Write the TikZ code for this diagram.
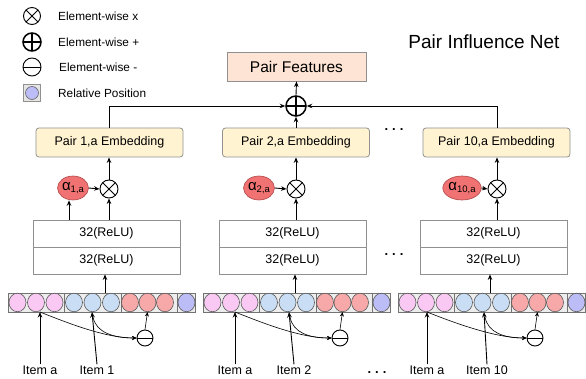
\documentclass[tikz,border=0pt]{standalone}
\usepackage{fontspec}
\setmainfont{Liberation Sans}
\usetikzlibrary{arrows.meta,shapes.geometric,calc}
\definecolor{embfill}{HTML}{FFF3D2}
\definecolor{pffill}{HTML}{FDE4D4}
\definecolor{alphafill}{HTML}{F07272}
\definecolor{alphadraw}{HTML}{B04848}
\definecolor{cpink}{HTML}{F9C9F4}
\definecolor{cblue}{HTML}{C9DEF4}
\definecolor{cred}{HTML}{F7A8A8}
\definecolor{cpurple}{HTML}{BCBDF7}
\definecolor{boxgray}{HTML}{909090}
\newcommand\fsz[1]{\fontsize{#1}{#1}\selectfont}
\newcommand\alab[1]{{\fsz{15}α}\raisebox{-2.5pt}{\fsz{9.5}#1}}
\begin{document}
\begin{tikzpicture}[x=1pt,y=-1pt,
  arr/.style={-{Stealth[length=5.5pt,width=4.5pt]},line width=0.9pt},
  thinarr/.style={-{Stealth[length=4.5pt,width=4pt]},line width=0.6pt},
  opbase/.style={circle,draw,fill=white,line width=0.9pt,inner sep=0pt,minimum size=#1},
  otimesnode/.style={opbase=#1,path picture={\draw[line width=0.9pt] (path picture bounding box.south west)--(path picture bounding box.north east) (path picture bounding box.north west)--(path picture bounding box.south east);}},
  oplusnode/.style={opbase=#1,line width=1.5pt,path picture={\draw[line width=1.5pt] (path picture bounding box.south)--(path picture bounding box.north) (path picture bounding box.west)--(path picture bounding box.east);}},
  ominusnode/.style={opbase=#1,path picture={\draw[line width=0.9pt] (path picture bounding box.west)--(path picture bounding box.east);}},
  legtxt/.style={anchor=west,inner sep=0pt,font=\fsz{11.8}},
  embbox/.style={draw=boxgray,fill=embfill,rounded corners=3pt,minimum width=147pt,minimum height=29pt,inner sep=0pt,font=\fsz{12.5},line width=0.8pt},
  relubox/.style={draw=boxgray,fill=white,minimum width=147pt,minimum height=27pt,inner sep=0pt,font=\fsz{12.5},line width=0.8pt},
  pfbox/.style={draw=boxgray,fill=pffill,minimum width=139pt,minimum height=29pt,inner sep=0pt,font=\fsz{15.5},line width=0.8pt},
  alphanode/.style={ellipse,draw=alphadraw,fill=alphafill,minimum width=27pt,minimum height=24pt,inner sep=0pt,line width=0.6pt},
  cell/.style={ellipse,draw=black!65,line width=0.6pt,minimum width=17pt,minimum height=18.5pt,inner sep=0pt},
  barbox/.style={draw=black!55,fill=black!7,minimum width=187pt,minimum height=19pt,inner sep=0pt,line width=0.7pt},
  txt/.style={inner sep=1pt,font=\fsz{12.5}},
  dotsnode/.style={inner sep=0pt,font=\fsz{13}\bfseries}
]
\useasboundingbox (0,0) rectangle (586,379);
% legend
\node[otimesnode=17pt] (lgx) at (32,16) {};
\node[legtxt] (lgxt) at (58,16) {Element-wise x};
\node[oplusnode=18pt] (lgp) at (32,42) {};
\node[legtxt] (lgpt) at (58,42) {Element-wise +};
\node[ominusnode=18pt] (lgm) at (32,67) {};
\node[legtxt] (lgmt) at (59,67) {Element-wise -};
\node[draw=boxgray,fill=black!10,minimum size=17pt,inner sep=0pt,line width=0.7pt] (lgr) at (32,93) {};
\node[circle,draw=black!60,fill=cpurple,minimum size=13pt,inner sep=0pt,line width=0.6pt] (lgrc) at (32,93) {};
\node[legtxt] (lgrt) at (58,93) {Relative Position};
% title
\node[inner sep=0pt,font=\fsz{19}] (title) at (484,42) {Pair Influence Net};
% top
\node[pfbox] (pf) at (296.5,66.5) {Pair Features};
\node[oplusnode=20pt] (sum) at (296,106) {};
% columns
\foreach \i/\bx/\ex/\rx/\ox/\ax/\omx/\btx/\iax/\ibx/\ibtop/\lab in {
  1/8/109.5/106.5/109/73/145/105/40/97/92/1,
  2/203/296/292.5/296/259/340/295/235/294/289/2,
  3/398/496.5/493.5/497/462/535/490/427/487/484/10}{
  \node[embbox] (emb\i) at (\ex,142.5) {Pair \lab,a Embedding};
  \node[relubox] (ra\i) at (\rx,233.5) {32(ReLU)};
  \node[relubox] (rb\i) at (\rx,260.5) {32(ReLU)};
  \node[otimesnode=18pt] (ot\i) at (\ox,189) {};
  \node[alphanode] (al\i) at (\ax,188) {\alab{\lab,a}};
  \node[barbox,anchor=north west] (bar\i) at (\bx,293) {};
  \foreach \d in {56,113.5,169.5}{
    \draw[draw=black!55,line width=0.7pt] (\bx+\d,293) -- (\bx+\d,312);
  }
  \foreach \k/\cx/\cc in {1/9.5/cpink,2/28/cpink,3/46.5/cpink,4/66/cblue,5/84.5/cblue,6/103/cblue,7/122/cred,8/139.5/cred,9/157/cred,10/178.5/cpurple}{
    \node[cell,fill=\cc] (c\i-\k) at (\bx+\cx,302.5) {};
  }
  \node[ominusnode=16pt] (om\i) at (\omx,338) {};
  \coordinate (pa\i) at (\iax,312);
  \coordinate (pb\i) at (\ibtop,312);
  \coordinate (pc\i) at (\ibtop+1,317);
  \coordinate (bt\i) at (\btx,293);
  \node[txt] (ia\i) at (\iax,370) {Item a};
  \node[txt] (ib\i) at (\ibx,370) {Item \lab};
  \draw[arr] (ia\i.north) -- (pa\i);
  \draw[arr] (ib\i.north) -- (pb\i);
  \draw[thinarr] (pa\i) .. controls +(30,12) and +(-30,0) .. (om\i.west);
  \draw[thinarr] (pc\i) .. controls +(3,16) and +(-22,0) .. (om\i.west);
  \draw[thinarr] (om\i.north) -- (c\i-8.south);
  \draw[arr] (bt\i) -- (bt\i |- rb\i.south);
  \draw[arr] (ot\i.south |- ra\i.north) -- (ot\i.south);
  \draw[arr] (al\i.east) -- (ot\i.west);
  \draw[arr] (ot\i.north) -- (ot\i.north |- emb\i.south);
}
\coordinate (alb) at ([xshift=-4pt]al1.south);
\draw[arr] (alb |- ra1.north) -- (alb);
\draw[arr] (ot1.north |- emb1.north) |- (sum.west);
\draw[arr] (ot3.north |- emb3.north) |- (sum.east);
\draw[arr] (emb2.north) -- (sum.south);
\draw[arr] (sum.north) -- (pf.south);
% dots
\node[dotsnode] (d1) at (394,130) {.\hspace{4pt}.\hspace{4pt}.};
\node[dotsnode] (d2) at (394,255) {.\hspace{4pt}.\hspace{4pt}.};
\node[dotsnode] (d3) at (377,373) {.\hspace{4pt}.\hspace{4pt}.};
\end{tikzpicture}
\end{document}
